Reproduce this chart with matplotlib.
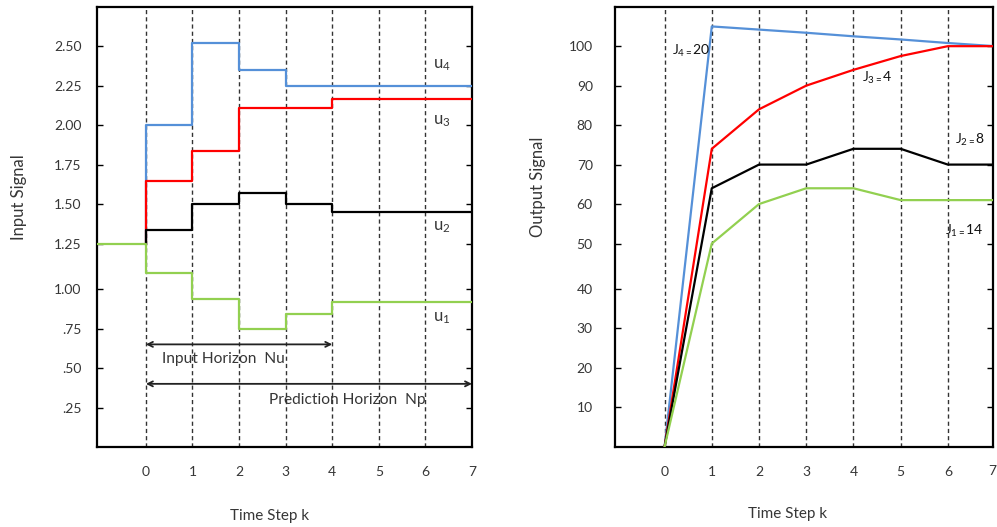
import numpy as np
import matplotlib
matplotlib.use("Agg")
import matplotlib.pyplot as plt

plt.rcParams["font.family"] = ["Lato", "DejaVu Sans"]
plt.rcParams["mathtext.fontset"] = "custom"
plt.rcParams["mathtext.rm"] = "Lato"
plt.rcParams["mathtext.it"] = "Lato:italic"

# ---------------- data ----------------
k_edges = [0, 1, 2, 3, 4, 7]          # move boundaries of the input sequence
u_prev = 1.25                          # input applied before k = 0
u1 = [1.09, 0.94, 0.75, 0.84, 0.92]
u2 = [1.34, 1.50, 1.57, 1.50, 1.45]
u3 = [1.65, 1.84, 2.11, 2.11, 2.17]
u4 = [2.00, 2.52, 2.35, 2.25, 2.25]
u_names = ["u$_{1}$", "u$_{2}$", "u$_{3}$", "u$_{4}$"]

k_out = [0, 1, 2, 3, 4, 5, 6, 7]
y1 = [0, 50, 60, 64, 64, 61, 61, 61]
y2 = [0, 64, 70, 70, 74, 74, 70, 70]
y3 = [0, 74, 84, 90, 94, 97.5, 100, 100]
y4 = [0, 105, 104.2, 103.4, 102.5, 101.7, 100.8, 100]
cost_labels = ["J$_{1=}$14", "J$_{2=}$8", "J$_{3=}$4", "J$_{4=}$20"]

in_ticks = [0.25, 0.50, 0.75, 1.00, 1.25, 1.50, 1.75, 2.00, 2.25, 2.50]
in_ticklabels = [".25", ".50", ".75", "1.00", "1.25", "1.50", "1.75", "2.00", "2.25", "2.50"]
out_ticks = [10, 20, 30, 40, 50, 60, 70, 80, 90, 100]
k_ticks = [0, 1, 2, 3, 4, 5, 6, 7]

GREEN, BLACK, RED, BLUE = "#92D050", "#000000", "#FF0000", "#5590D8"
colors = [GREEN, BLACK, RED, BLUE]
TXT = "#363636"


def stretched(lo, hi, gap):
    """Axis scale that widens the interval [lo, hi] by `gap` units."""
    def fwd(v):
        v = np.asarray(v, dtype=float)
        return v + gap * np.clip((v - lo) / (hi - lo), 0, 1)

    def inv(w):
        w = np.asarray(w, dtype=float)
        mid = lo + (w - lo) * (hi - lo) / (hi - lo + gap)
        return np.where(w <= lo, w, np.where(w >= hi + gap, w - gap, mid))
    return fwd, inv


fig = plt.figure(figsize=(9.97, 5.27), dpi=100)
axL = fig.add_axes([97 / 997, 80 / 527, 375 / 997, 440 / 527])
axR = fig.add_axes([615 / 997, 80.3 / 527, 377.7 / 997, 440 / 527])

for ax in (axL, axR):
    for s in ax.spines.values():
        s.set_linewidth(1.6)
        s.set_color("black")
    ax.tick_params(axis="y", which="both", direction="in", length=4, width=1,
                   left=True, right=True, labelcolor=TXT, labelsize=10)
    ax.tick_params(axis="x", length=0, labelcolor=TXT, labelsize=10, pad=14)

# ---------------- left: input moves ----------------
axL.set_yscale("function", functions=stretched(1.0, 1.25, 0.037))
axL.set_xlim(-1.05, 7)
axL.set_ylim(0, 2.75)
for k in k_ticks[:-1]:
    axL.axvline(k, color="#333333", lw=1.0, ls=(0, (3, 2.2)), zorder=1)

series_u = [u1, u2, u3, u4]
for idx in [3, 2, 1, 0]:
    u = series_u[idx]
    start = -1.2 if idx == 0 else 0
    xs = [start] + k_edges
    ys = [u_prev] + u + [u[-1]]
    axL.step(xs, ys, where="post", color=colors[idx], lw=1.6, zorder=3)

u_label_pos = [(6.16, 0.82), (6.16, 1.355), (6.16, 2.025), (6.16, 2.385)]
for name, (x, y) in zip(u_names, u_label_pos):
    axL.text(x, y, name, fontsize=12, color=TXT, ha="left", va="center")

arrow_kw = dict(arrowstyle="<->", color="#222222", lw=1.3,
                mutation_scale=9, shrinkA=0, shrinkB=0)
axL.annotate("", xy=(4, 0.65), xytext=(0, 0.65), arrowprops=arrow_kw)
axL.annotate("", xy=(7, 0.40), xytext=(0, 0.40), arrowprops=arrow_kw,
             annotation_clip=False)
axL.text(0.34, 0.555, "Input Horizon  Nu", fontsize=11.2, color=TXT,
         ha="left", va="center")
axL.text(2.64, 0.30, "Prediction Horizon  Np", fontsize=11.2, color=TXT,
         ha="left", va="center")

axL.set_yticks(in_ticks)
axL.set_yticklabels(in_ticklabels)
axL.tick_params(axis="y", pad=11)
axL.set_xticks(k_ticks)
axL.set_xlabel("Time Step k", fontsize=11, color=TXT, va="center")
axL.xaxis.set_label_coords(0.459, -0.156)
axL.set_ylabel("Input Signal", fontsize=12, color=TXT, va="center")
axL.yaxis.set_label_coords(-0.209, 0.567)

# ---------------- right: predicted outputs ----------------
axR.set_yscale("function", functions=stretched(40, 50, 1.47))
axR.set_xlim(-1.05, 6.95)
axR.set_ylim(0, 110)
for k in k_ticks[:-1]:
    axR.axvline(k, color="#333333", lw=1.0, ls=(0, (3, 2.2)), zorder=1)

series_y = [y1, y2, y3, y4]
for idx in [3, 2, 1, 0]:
    axR.plot(k_out, series_y[idx], color=colors[idx], lw=1.6, zorder=3)

cost_pos = [(5.94, 53.2), (6.15, 76.2), (4.18, 92.0), (0.15, 98.7)]
for name, (x, y) in zip(cost_labels, cost_pos):
    axR.text(x, y, name, fontsize=10, color="#111111", ha="left", va="center")

axR.set_yticks(out_ticks)
axR.tick_params(axis="y", pad=16)
axR.set_xticks(k_ticks[:-1])
# last step label sits on the right frame edge, just inside the figure
axR.text(6.93, -0.056, str(k_ticks[-1]), fontsize=10, color=TXT,
         ha="center", va="center", transform=axR.get_xaxis_transform(),
         clip_on=False)
axR.set_xlabel("Time Step k", fontsize=11, color=TXT, va="center")
axR.xaxis.set_label_coords(0.457, -0.154)
axR.set_ylabel("Output Signal", fontsize=12, color=TXT, va="center")
axR.yaxis.set_label_coords(-0.204, 0.591)

fig.savefig("out.png", dpi=100)
